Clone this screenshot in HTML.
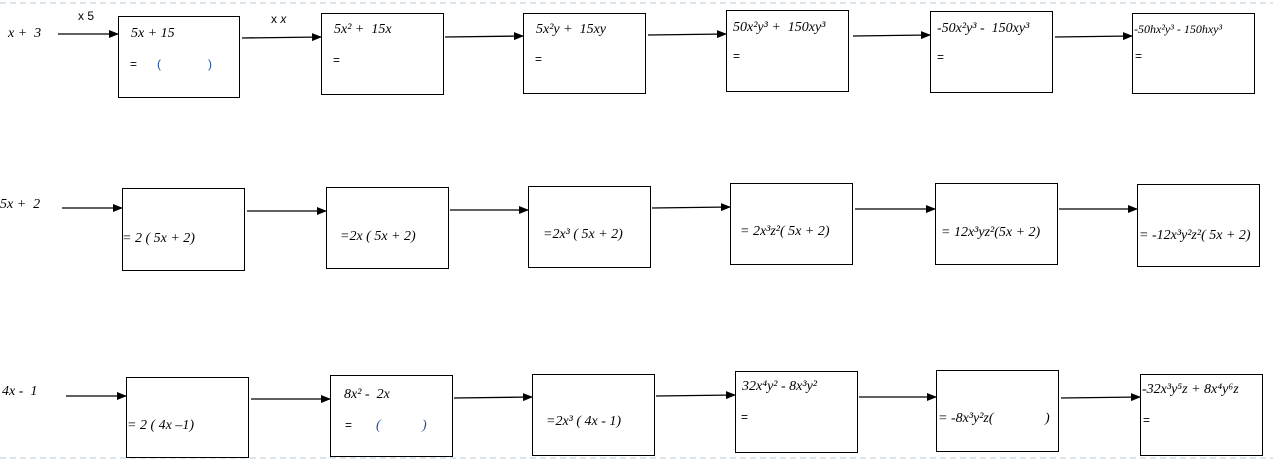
<!DOCTYPE html>
<html><head><meta charset="utf-8"><style>
html,body{margin:0;padding:0;background:#fff;}
svg{display:block;}
text{font-family:"Liberation Serif","DejaVu Serif",serif;font-style:italic;font-size:14px;fill:#000;white-space:pre;}
.n{font-family:"Liberation Sans",sans-serif;font-style:normal;font-size:12px;}
.b{fill:#1f4fa0;}
</style></head><body>
<svg width="1273" height="461" viewBox="0 0 1273 461" xmlns="http://www.w3.org/2000/svg" xml:space="preserve">
<defs><marker id="a" markerWidth="10" markerHeight="8" refX="9" refY="4" orient="auto" markerUnits="userSpaceOnUse"><path d="M0,0 L10,4 L0,8 z" fill="#000"/></marker></defs>
<line x1="0" y1="3" x2="1273" y2="3" stroke="#b8c8d8" stroke-dasharray="6,4"/>
<line x1="0" y1="458" x2="1273" y2="458" stroke="#b8c8d8" stroke-dasharray="6,4"/>
<g fill="#fff" stroke="#000" stroke-width="1">
<rect x="118.5" y="16.5" width="121" height="81"/><rect x="321.5" y="13.5" width="122" height="81"/><rect x="523.5" y="13.5" width="122" height="80"/><rect x="726.5" y="10.5" width="122" height="81"/><rect x="930.5" y="11.5" width="122" height="81"/><rect x="1132.5" y="13.5" width="122" height="80"/>
<rect x="122.5" y="188.5" width="122" height="82"/><rect x="326.5" y="187.5" width="122" height="81"/><rect x="528.5" y="186.5" width="122" height="81"/><rect x="730.5" y="183.5" width="122" height="81"/><rect x="935.5" y="183.5" width="122" height="81"/><rect x="1137.5" y="184.5" width="122" height="82"/>
<rect x="126.5" y="377.5" width="122" height="80"/><rect x="330.5" y="375.5" width="122" height="81"/><rect x="532.5" y="374.5" width="122" height="81"/><rect x="735.5" y="371.5" width="122" height="81"/><rect x="936.5" y="370.5" width="122" height="81"/><rect x="1140.5" y="374.5" width="122" height="81"/>
</g>
<g stroke="#000" stroke-width="1.3" marker-end="url(#a)">
<line x1="58" y1="34" x2="118" y2="34"/><line x1="242" y1="38" x2="321" y2="37"/><line x1="445" y1="37" x2="523" y2="36"/><line x1="648" y1="35" x2="726" y2="34"/><line x1="853" y1="36" x2="930" y2="35"/><line x1="1055" y1="37" x2="1132" y2="36"/>
<line x1="62" y1="208" x2="122" y2="208"/><line x1="247" y1="211" x2="326" y2="211"/><line x1="450" y1="210" x2="528" y2="210"/><line x1="652" y1="208" x2="730" y2="207"/><line x1="855" y1="209" x2="935" y2="209"/><line x1="1059" y1="209" x2="1137" y2="209"/>
<line x1="66" y1="396" x2="126" y2="396"/><line x1="251" y1="399" x2="330" y2="399"/><line x1="454" y1="398" x2="532" y2="397"/><line x1="656" y1="396" x2="735" y2="395"/><line x1="859" y1="397" x2="936" y2="397"/><line x1="1061" y1="398" x2="1140" y2="397"/>
</g>
<text x="8" y="37">x +  3</text>
<text class="n" x="78" y="20">x 5</text>
<text class="n" x="271" y="23">x <tspan style="font-style:italic">x</tspan></text>
<text x="131" y="37">5x + 15</text>
<text class="n" x="130" y="68">=</text><text class="n b" x="157" y="68">(</text><text class="n b" x="208" y="68">)</text>
<text x="334" y="33">5x² +  15x</text><text class="n" x="333" y="64">=</text>
<text x="536" y="33">5x²y +  15xy</text><text class="n" x="535" y="63">=</text>
<text x="733" y="31">50x²y³ +  150xy³</text><text class="n" x="733" y="60">=</text>
<text x="937" y="32">-50x²y³ -  150xy³</text><text class="n" x="937" y="61">=</text>
<text x="1134" y="33" style="font-size:12px">-50hx²y³ - 150hxy³</text><text class="n" x="1135" y="60">=</text>
<text x="0" y="208">5x +  2</text>
<text x="122" y="242">= 2 ( 5x + 2)</text>
<text x="340" y="240">=2x ( 5x + 2)</text>
<text x="543" y="238">=2x³ ( 5x + 2)</text>
<text x="740" y="235">= 2x³z²( 5x + 2)</text>
<text x="941" y="236">= 12x³yz²(5x + 2)</text>
<text x="1139" y="239">= -12x³y²z²( 5x + 2)</text>
<text x="2" y="395">4x -  1</text>
<text x="127" y="429">= 2 ( 4x –1)</text>
<text x="344" y="398">8x² -  2x</text><text class="n" x="345" y="429">=</text><text class="b" x="376" y="429">(</text><text class="b" x="422" y="429">)</text>
<text x="546" y="425">=2x³ ( 4x - 1)</text>
<text x="742" y="390">32x⁴y² - 8x³y²</text><text class="n" x="741" y="421">=</text>
<text x="938" y="422">= -8x³y²z(</text><text x="1045" y="422">)</text>
<text x="1142" y="393">-32x³y⁵z + 8x⁴y⁶z</text><text class="n" x="1143" y="424">=</text>
</svg>
</body></html>
